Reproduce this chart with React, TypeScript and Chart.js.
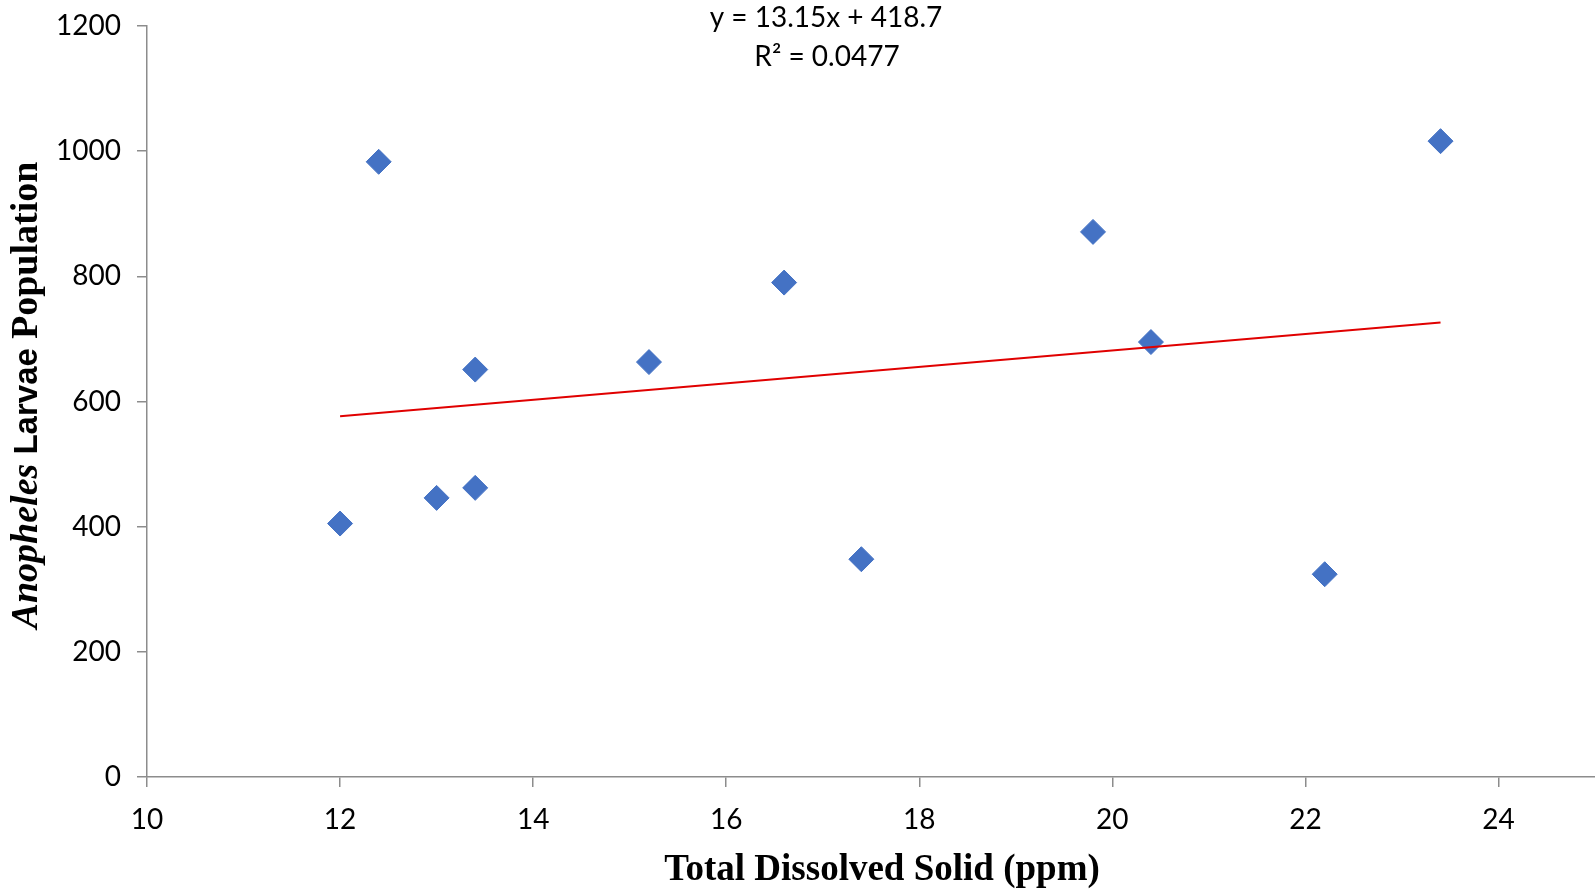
import React, { useEffect, useRef } from "react";
import { Chart, registerables } from "chart.js";

Chart.register(...registerables);

const tdsValues = [12.0, 12.4, 13.0, 13.4, 13.4, 15.2, 16.6, 17.4, 19.8, 20.4, 22.2, 23.4];
const larvaeValues = [405, 983, 446, 651, 462, 663, 790, 348, 871, 695, 324, 1016];
const trendSlope = 13.15;
const trendIntercept = 418.7;
const equationLines = ["y = 13.15x + 418.7", "R\u00B2 = 0.0477"];
const xTitle = "Total Dissolved Solid (ppm)";
const yTitleParts = ["Anopheles", " Larvae ", "Population"];

const AXIS_COLOR = "#8c8c8c";
const TICK_FONT = "Lato";

const overlayPlugin = {
  id: "overlay",
  afterDraw(chart: any) {
    const ctx = chart.ctx;
    ctx.save();
    ctx.fillStyle = "#000";
    // equation
    ctx.font = `28px ${TICK_FONT}`;
    ctx.textAlign = "center";
    ctx.textBaseline = "alphabetic";
    ctx.fillText(equationLines[0], 826, 27);
    ctx.fillText(equationLines[1], 827, 66);
    // x title
    ctx.font = "bold 37px 'Liberation Serif'";
    ctx.fillText(xTitle, 882, 880);
    // y title
    const fonts = [
      "italic bold 38px 'Liberation Serif'",
      "bold 33px 'Liberation Sans'",
      "bold 38px 'Liberation Serif'",
    ];
    const widths = yTitleParts.map((t, i) => {
      ctx.font = fonts[i];
      return ctx.measureText(t).width;
    });
    const total = widths.reduce((a, b) => a + b, 0);
    ctx.translate(37, 395);
    ctx.rotate(-Math.PI / 2);
    ctx.textAlign = "left";
    let pos = -total / 2;
    yTitleParts.forEach((t, i) => {
      ctx.font = fonts[i];
      ctx.fillText(t, pos, 0);
      pos += widths[i];
    });
    ctx.restore();
  },
};

export default function App() {
  const ref = useRef<HTMLCanvasElement>(null);
  useEffect(() => {
    if (!ref.current) return;
    const scatterData = tdsValues.map((x, i) => ({ x, y: larvaeValues[i] }));
    const xs = [Math.min(...tdsValues), Math.max(...tdsValues)];
    const trendData = xs.map((x) => ({ x, y: trendSlope * x + trendIntercept }));
    const chart = new Chart(ref.current, {
      type: "scatter",
      data: {
        datasets: [
          {
            type: "line",
            data: trendData,
            borderColor: "#e00000",
            borderWidth: 2,
            pointRadius: 0,
            fill: false,
          } as any,
          {
            data: scatterData,
            pointStyle: "rectRot",
            pointRadius: 12.5,
            backgroundColor: "#4472C4",
            borderColor: "#4472C4",
            borderWidth: 1,
          },
        ],
      },
      options: {
        responsive: false,
        animation: false,
        layout: { autoPadding: false, padding: { top: 26, right: 0, left: 0, bottom: 0 } },
        plugins: { legend: { display: false }, tooltip: { enabled: false } },
        scales: {
          x: {
            type: "linear",
            min: 10,
            max: 25,
            afterBuildTicks: (s: any) => {
              s.ticks = s.ticks.filter((t: any) => t.value % 2 === 0);
            },
            afterFit: (s: any) => {
              s.height = 115;
              s.paddingLeft = 0;
              s.paddingRight = 0;
            },
            ticks: {
              stepSize: 2,
              color: "#000",
              font: { family: TICK_FONT, size: 28 },
              padding: 16,
              maxRotation: 0,
              callback: (v: any) => String(v),
            },
            grid: {
              display: true,
              drawOnChartArea: false,
              drawTicks: true,
              tickLength: 10,
              color: AXIS_COLOR,
              lineWidth: 1.5,
            },
            border: { display: true, color: AXIS_COLOR, width: 1.5 },
          },
          y: {
            type: "linear",
            min: 0,
            max: 1200,
            afterFit: (s: any) => {
              s.width = 147;
              s.paddingTop = 0;
              s.paddingBottom = 0;
            },
            ticks: {
              stepSize: 200,
              color: "#000",
              font: { family: TICK_FONT, size: 28 },
              padding: 16,
              callback: (v: any) => String(v),
            },
            grid: {
              display: true,
              drawOnChartArea: false,
              drawTicks: true,
              tickLength: 10,
              color: AXIS_COLOR,
              lineWidth: 1.5,
            },
            border: { display: true, color: AXIS_COLOR, width: 1.5 },
          },
        },
      },
      plugins: [overlayPlugin],
    });
    return () => chart.destroy();
  }, []);
  return (
    <div style={{ position: "fixed", left: 0, top: 0, width: 1595, height: 892, background: "#fff" }}>
      <canvas ref={ref} width={1595} height={892} style={{ display: "block" }} />
    </div>
  );
}
